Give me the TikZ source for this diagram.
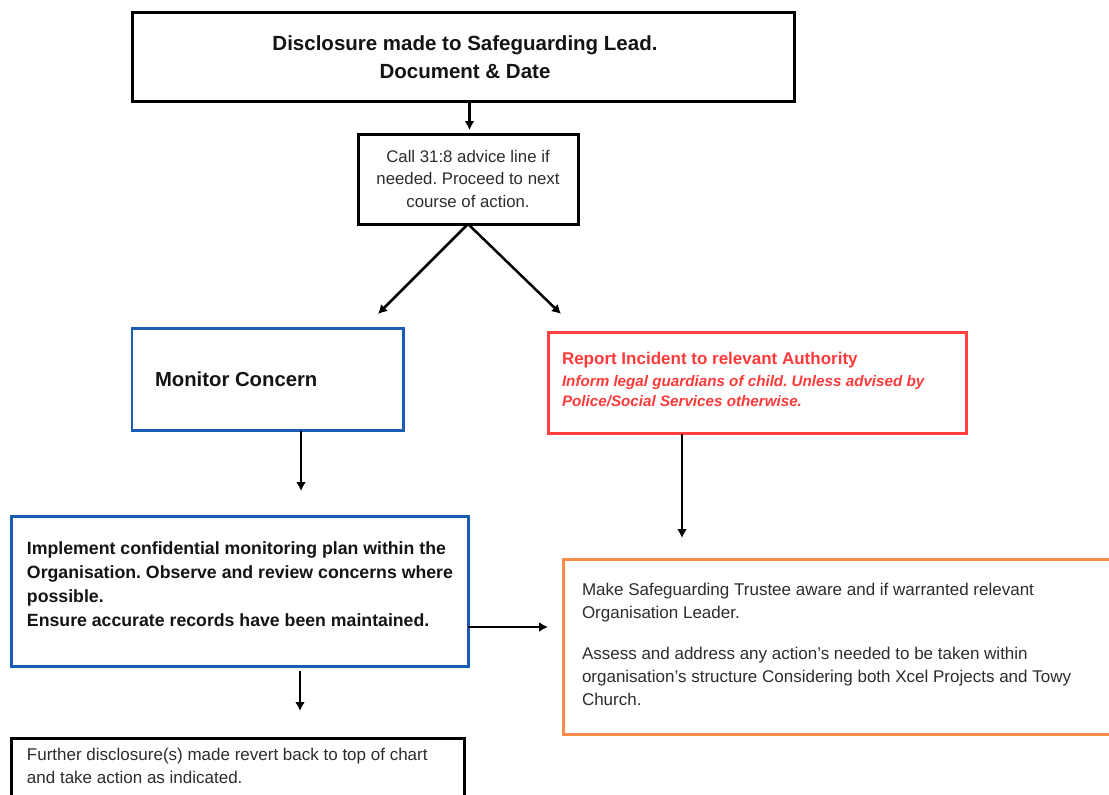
\documentclass[tikz,border=0pt]{standalone}
\usepackage{fontspec}
\setmainfont{Liberation Sans}
\usetikzlibrary{arrows.meta,calc}
\definecolor{bblue}{RGB}{28,92,180}
\definecolor{rred}{RGB}{255,64,64}
\definecolor{rtext}{RGB}{255,58,58}
\definecolor{oorange}{RGB}{250,140,75}
\definecolor{tgray}{RGB}{45,45,45}
\definecolor{tblack}{RGB}{20,20,20}
\newcommand\fstrut{\rule{0pt}{0.8em}}
\frenchspacing
\begin{document}
\begin{tikzpicture}[x=1pt,y=-1pt,
  box/.style={draw, rectangle, inner sep=0pt, outer sep=0pt, anchor=north west, line width=3pt},
  txt/.style={inner sep=0pt, outer sep=0pt, anchor=north west, align=left},
  arr/.style={draw=black, line width=2.5pt, -{Latex[length=9pt,width=10pt]}}]
\useasboundingbox (0,0) rectangle (1109,795);
\fill[white] (0,0) rectangle (1109,795);
\clip (0,0) rectangle (1109,795);

% boxes
\node[box, minimum width=662pt, minimum height=89pt] (title) at (132.5,12.5) {};
\node[box, minimum width=220pt, minimum height=90pt] (call) at (358,134) {};
\node[box, draw=bblue, line width=2.6pt, minimum width=271.5pt, minimum height=102pt] (monitor) at (132,328.5) {};
\node[box, draw=rred, minimum width=418pt, minimum height=101pt] (report) at (548,332.5) {};
\node[box, draw=bblue, minimum width=456.5pt, minimum height=150pt] (implement) at (11.5,516) {};
\node[box, draw=oorange, minimum width=560pt, minimum height=174.5pt] (make) at (563,559.5) {};
\node[box, minimum width=452.5pt, minimum height=80pt] (further) at (11.5,738) {};

% texts
\node[txt, anchor=north, align=center, text=tblack, font=\fontsize{20.5}{28}\selectfont\bfseries] (titletxt) at (465,33.6)
  {\fstrut Disclosure made to Safeguarding Lead.\\Document \& Date};
\node[txt, anchor=north, align=center, text=tgray, font=\fontsize{16.8}{22.5}\selectfont] (calltxt) at (468,148.6)
  {\fstrut Call 31:8 advice line if\\needed. Proceed to next\\course of action.};
\node[txt, text=tblack, font=\fontsize{20.3}{24}\selectfont\bfseries] (montxt) at (155,369.8)
  {\fstrut Monitor Concern};
\node[txt, text=rtext, font=\fontsize{15.2}{20}\selectfont\bfseries\itshape] (reptxt) at (562,350.4)
  {{\fontsize{17}{20}\selectfont\upshape\fstrut Report Incident to relevant Authority}\\[2pt]Inform legal guardians of child. Unless advised by\\Police/Social Services otherwise.};
\node[txt, text=tblack, font=\fontsize{17.7}{23.7}\selectfont\bfseries] (imptxt) at (27,540.8)
  {\fstrut Implement confidential monitoring plan within the\\Organisation. Observe and review concerns where\\possible.\\Ensure accurate records have been maintained.};
\node[txt, text=tgray, font=\fontsize{17}{23}\selectfont] (maketxt) at (582,581.4)
  {\fstrut Make Safeguarding Trustee aware and if warranted relevant\\Organisation Leader.\\[18.5pt]Assess and address any action's needed to be taken within\\organisation's structure Considering both Xcel Projects and Towy\\Church.};
\node[txt, text=tgray, font=\fontsize{17}{23}\selectfont] (furtxt) at (27,746.4)
  {\fstrut Further disclosure(s) made revert back to top of chart\\and take action as indicated.};

% connectors
\coordinate (t1) at (469.5,130);
\coordinate (d1) at (378,314);
\coordinate (d2) at (561,314);
\coordinate (m1) at (301,491);
\coordinate (r1) at (682,538);
\coordinate (i1) at (548,627);
\coordinate (i2) at (300,711);
\draw[arr] (title.south -| t1) -- (t1);
\draw[arr] (call.south) -- (d1);
\draw[arr] (call.south) -- (d2);
\draw[arr] (monitor.south -| m1) -- (m1);
\draw[arr] (report.south -| r1) -- (r1);
\draw[arr] (implement.east |- i1) -- (i1);
\draw[arr, shorten <=5pt] (implement.south -| i2) -- (i2);
\end{tikzpicture}
\end{document}
